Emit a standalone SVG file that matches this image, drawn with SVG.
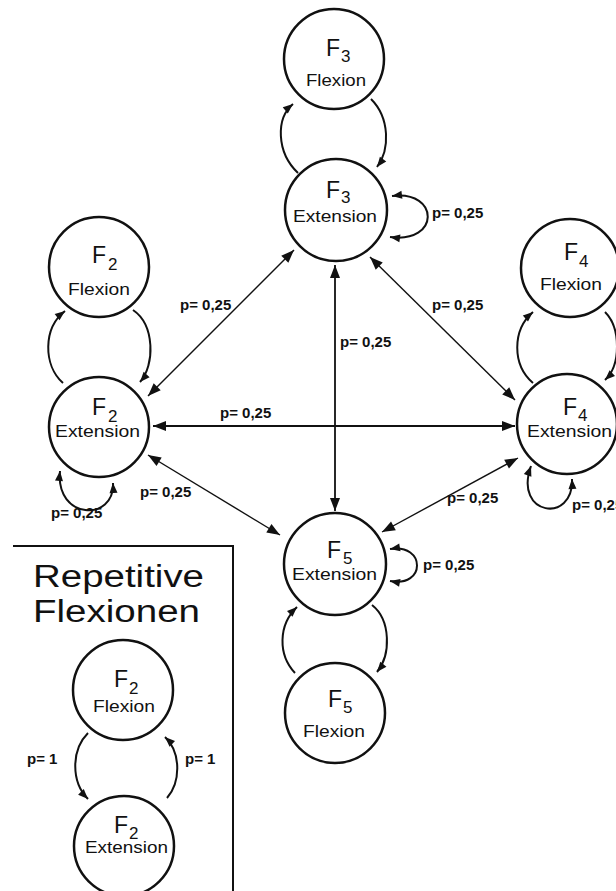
<svg xmlns="http://www.w3.org/2000/svg" width="616" height="891" viewBox="0 0 616 891">
<style>
.n{fill:#fff;stroke:#111;stroke-width:2.5}
.t{font-family:"Liberation Sans",Arial,sans-serif;fill:#111}
.big{font-size:23px}
.sub{font-size:17px}
.lab{font-size:17px}
.p{font-family:"Liberation Sans",Arial,sans-serif;font-size:15px;font-weight:bold;fill:#111}
.ln{fill:none;stroke:#111;stroke-width:1.4}
.arc{fill:none;stroke:#111;stroke-width:2}
</style>
<defs>
<marker id="a" markerUnits="userSpaceOnUse" viewBox="0 0 13 10" markerWidth="13" markerHeight="10" refX="13" refY="5" orient="auto-start-reverse" overflow="visible"><path d="M0,0 L13,5 L0,10 z" fill="#111"/></marker>
<marker id="s" markerUnits="userSpaceOnUse" viewBox="0 0 10 8" markerWidth="10" markerHeight="8" refX="10" refY="4" orient="auto-start-reverse" overflow="visible"><path d="M0,0 L10,4 L0,8 z" fill="#111"/></marker>
</defs>
<rect width="616" height="891" fill="#fff"/>

<g id="connectors">
<line class="ln" x1="148" y1="396" x2="294" y2="250" marker-start="url(#a)" marker-end="url(#a)"/>
<line class="ln" x1="153" y1="426" x2="515" y2="426" style="stroke-width:1.8" marker-start="url(#a)" marker-end="url(#a)"/>
<line class="ln" x1="148" y1="455" x2="280" y2="535" marker-start="url(#a)" marker-end="url(#a)"/>
<line class="ln" x1="370" y1="257" x2="515" y2="400" marker-start="url(#a)" marker-end="url(#a)"/>
<line class="ln" x1="335" y1="265" x2="335" y2="511" style="stroke-width:1.8" marker-start="url(#a)" marker-end="url(#a)"/>
<line class="ln" x1="518" y1="458" x2="382" y2="532" marker-start="url(#a)" marker-end="url(#a)"/>
<path class="arc" d="M392 196 C440 190,440 244,390 237" marker-start="url(#s)" marker-end="url(#s)"/>
<path class="arc" d="M390 549 C426 543,426 588,390 581" marker-start="url(#s)" marker-end="url(#s)"/>
<path class="arc" d="M60 471 C55 520,115 522,113 483" marker-start="url(#s)" marker-end="url(#s)"/>
<path class="arc" d="M531 466 C513 516,574 524,572 479" marker-start="url(#s)" marker-end="url(#s)"/>
<path class="arc" d="M298 173 C276 152,276 118,293 104" marker-end="url(#s)"/>
<path class="arc" d="M371 99 C390 118,390 150,377 167" marker-end="url(#s)"/>
<path class="arc" d="M63 383 C43 365,43 328,65 311" marker-end="url(#s)"/>
<path class="arc" d="M133 310 C155 325,155 365,140 382" marker-end="url(#s)"/>
<path class="arc" d="M533 383 C512 365,512 330,533 312" marker-end="url(#s)"/>
<path class="arc" d="M605 312 C621 328,621 365,605 380" marker-end="url(#s)"/>
<path class="arc" d="M295 673 C278 655,278 625,297 607" marker-end="url(#s)"/>
<path class="arc" d="M372 605 C391 620,391 655,377 672" marker-end="url(#s)"/>
<path class="arc" d="M88 733 C71 750,71 782,88 799" marker-end="url(#s)"/>
<path class="arc" d="M167 798 C181 782,181 752,165 737" marker-end="url(#s)"/>
<text class="p" x="432" y="218">p= 0,25</text>
<text class="p" x="180" y="310">p= 0,25</text>
<text class="p" x="340" y="347">p= 0,25</text>
<text class="p" x="432" y="310">p= 0,25</text>
<text class="p" x="220" y="418">p= 0,25</text>
<text class="p" x="140" y="497">p= 0,25</text>
<text class="p" x="447" y="503">p= 0,25</text>
<text class="p" x="51" y="518">p= 0,25</text>
<text class="p" x="572" y="510">p= 0,25</text>
<text class="p" x="423" y="570">p= 0,25</text>
<text class="p" x="27" y="764">p= 1</text>
<text class="p" x="185" y="764">p= 1</text>
</g>

<g id="f3-flexion">
<circle class="n" cx="334" cy="59" r="50"/>
<text class="t big" x="326" y="56">F</text><text class="t sub" x="341" y="62">3</text>
<text class="t lab" x="336" y="86" text-anchor="middle" textLength="60" lengthAdjust="spacingAndGlyphs">Flexion</text>
</g>
<g id="f3-extension">
<circle class="n" cx="336" cy="210" r="51"/>
<text class="t big" x="326" y="198">F</text><text class="t sub" x="341" y="203">3</text>
<text class="t lab" x="335" y="222" text-anchor="middle" textLength="84" lengthAdjust="spacingAndGlyphs">Extension</text>
</g>
<g id="f2-flexion">
<circle class="n" cx="99" cy="267" r="50"/>
<text class="t big" x="92" y="263">F</text><text class="t sub" x="108" y="270">2</text>
<text class="t lab" x="99" y="295" text-anchor="middle" textLength="62" lengthAdjust="spacingAndGlyphs">Flexion</text>
</g>
<g id="f2-extension">
<circle class="n" cx="99" cy="427" r="50"/>
<text class="t big" x="92" y="415">F</text><text class="t sub" x="108" y="422">2</text>
<text class="t lab" x="97.5" y="437" text-anchor="middle" textLength="85" lengthAdjust="spacingAndGlyphs">Extension</text>
</g>
<g id="f4-flexion">
<circle class="n" cx="570" cy="268" r="49"/>
<text class="t big" x="564" y="260">F</text><text class="t sub" x="579" y="267">4</text>
<text class="t lab" x="571" y="290" text-anchor="middle" textLength="62" lengthAdjust="spacingAndGlyphs">Flexion</text>
</g>
<g id="f4-extension">
<circle class="n" cx="567" cy="424" r="50"/>
<text class="t big" x="563" y="415">F</text><text class="t sub" x="578" y="421">4</text>
<text class="t lab" x="569.5" y="437" text-anchor="middle" textLength="85" lengthAdjust="spacingAndGlyphs">Extension</text>
</g>
<g id="f5-extension">
<circle class="n" cx="335" cy="564" r="51"/>
<text class="t big" x="327" y="558">F</text><text class="t sub" x="343" y="564">5</text>
<text class="t lab" x="334.5" y="580" text-anchor="middle" textLength="85" lengthAdjust="spacingAndGlyphs">Extension</text>
</g>
<g id="f5-flexion">
<circle class="n" cx="335" cy="713" r="50"/>
<text class="t big" x="328" y="707">F</text><text class="t sub" x="343" y="713">5</text>
<text class="t lab" x="334" y="737" text-anchor="middle" textLength="62" lengthAdjust="spacingAndGlyphs">Flexion</text>
</g>

<g id="legend">
<path d="M13 546 H233 V891" fill="none" stroke="#111" stroke-width="2"/>
<text class="t" x="33" y="587" font-size="31" textLength="171" lengthAdjust="spacingAndGlyphs">Repetitive</text>
<text class="t" x="33" y="622" font-size="31" textLength="167" lengthAdjust="spacingAndGlyphs">Flexionen</text>
</g>
<g id="legend-f2-flexion">
<circle class="n" cx="123" cy="690" r="50"/>
<text class="t big" x="114" y="687">F</text><text class="t sub" x="129" y="694">2</text>
<text class="t lab" x="124" y="712" text-anchor="middle" textLength="62" lengthAdjust="spacingAndGlyphs">Flexion</text>
</g>
<g id="legend-f2-extension">
<circle class="n" cx="124" cy="846" r="50"/>
<text class="t big" x="114" y="833">F</text><text class="t sub" x="129" y="839">2</text>
<text class="t lab" x="126.5" y="853" text-anchor="middle" textLength="83" lengthAdjust="spacingAndGlyphs">Extension</text>
</g>
</svg>
